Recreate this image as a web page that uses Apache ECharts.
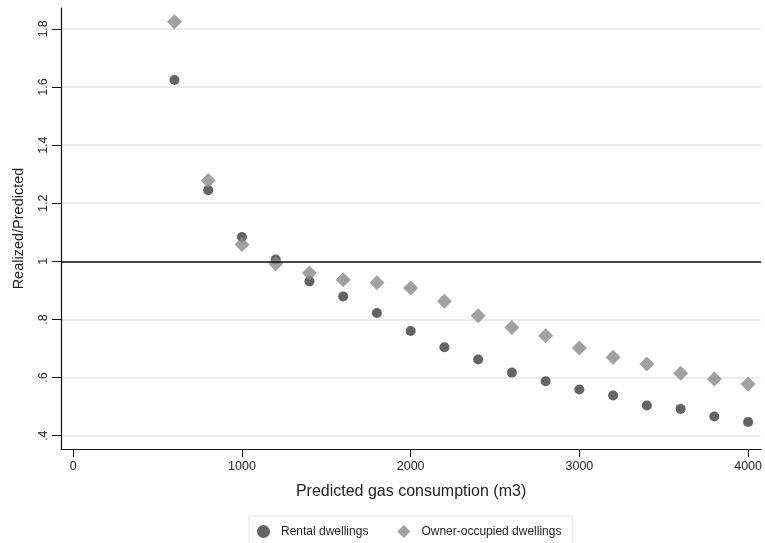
<!DOCTYPE html>
<html>
<head>
<meta charset="utf-8">
<script src="https://cdn.jsdelivr.net/npm/echarts@6/dist/echarts.min.js"></script>
<style>html,body{margin:0;padding:0;background:#fff;}#c{width:765px;height:543px;}</style>
</head>
<body>
<div id="c"></div>
<script>
const xValues = [600, 800, 1000, 1200, 1400, 1600, 1800, 2000, 2200, 2400, 2600, 2800, 3000, 3200, 3400, 3600, 3800, 4000];
const rental = [1.624, 1.245, 1.084, 1.006, 0.931, 0.879, 0.822, 0.760, 0.704, 0.662, 0.617, 0.587, 0.559, 0.538, 0.504, 0.492, 0.466, 0.447];
const owner = [1.825, 1.278, 1.058, 0.992, 0.960, 0.937, 0.926, 0.908, 0.863, 0.813, 0.772, 0.744, 0.702, 0.670, 0.647, 0.615, 0.595, 0.578];
const xTicks = [0, 1000, 2000, 3000, 4000];
const yTicks = [0.4, 0.6, 0.8, 1, 1.2, 1.4, 1.6, 1.8];
const seriesNames = ['Rental dwellings', 'Owner-occupied dwellings'];
const refValue = 1;

const font = 'Liberation Sans, Arial, sans-serif';
function fmtY(v) {
  const r = Math.round(v * 10) / 10;
  if (r === 1) return '1';
  if (r < 1) return String(r).replace(/^0/, '');
  return r.toFixed(1);
}
const chart = echarts.init(document.getElementById('c'));
chart.setOption({
  animation: false,
  backgroundColor: '#ffffff',
  grid: { left: 61, right: 1, top: 8, bottom: 94 },
  legend: {
    left: 249, top: 516,
    data: seriesNames,
    itemWidth: 13, itemHeight: 13, itemGap: 29,
    padding: [9, 11, 14, 8],
    borderColor: '#e4e4e4', borderWidth: 1,
    textStyle: { fontFamily: font, fontSize: 12, color: '#222', padding: [0, 0, 0, 6] }
  },
  xAxis: {
    type: 'value', min: -72.6, max: 4077,
    name: 'Predicted gas consumption (m3)', nameLocation: 'middle', nameGap: 35,
    nameTextStyle: { fontFamily: font, fontSize: 16, color: '#222' },
    axisLine: { show: true, onZero: false, lineStyle: { color: '#111', width: 1.2 } },
    axisTick: { show: true, length: 8, customValues: xTicks, lineStyle: { color: '#111' } },
    axisLabel: { customValues: xTicks, fontFamily: font, fontSize: 12.5, color: '#222', margin: 11, formatter: v => String(v) },
    splitLine: { show: false }
  },
  yAxis: {
    type: 'value', min: 0.354, max: 1.872,
    name: 'Realized/Predicted', nameLocation: 'middle', nameGap: 35, nameRotate: 90,
    nameTextStyle: { fontFamily: font, fontSize: 14.5, color: '#222' },
    axisLine: { show: true, onZero: false, lineStyle: { color: '#111', width: 1.2 } },
    axisTick: { show: true, length: 9, customValues: yTicks, lineStyle: { color: '#111' } },
    axisLabel: { customValues: yTicks, rotate: 90, fontFamily: font, fontSize: 12.5, color: '#222', margin: 11, formatter: fmtY },
    splitLine: { show: true, lineStyle: { color: '#e4e4e4', width: 1.5 } }
  },
  series: [
    {
      name: seriesNames[0], type: 'scatter', symbol: 'circle', symbolSize: 10,
      itemStyle: { color: '#3d3d3d' },
      data: xValues.map((x, i) => [x, rental[i]]),
      z: 3,
      markLine: {
        silent: true, symbol: 'none', label: { show: false },
        lineStyle: { color: '#111', width: 1.5, type: 'solid' },
        data: [{ yAxis: refValue }]
      }
    },
    {
      name: seriesNames[1], type: 'scatter', symbol: 'diamond', symbolSize: [15, 15],
      symbolKeepAspect: true,
      itemStyle: { color: '#8a8a8a' },
      data: xValues.map((x, i) => [x, owner[i]]),
      z: 4
    }
  ]
});
</script>
</body>
</html>
